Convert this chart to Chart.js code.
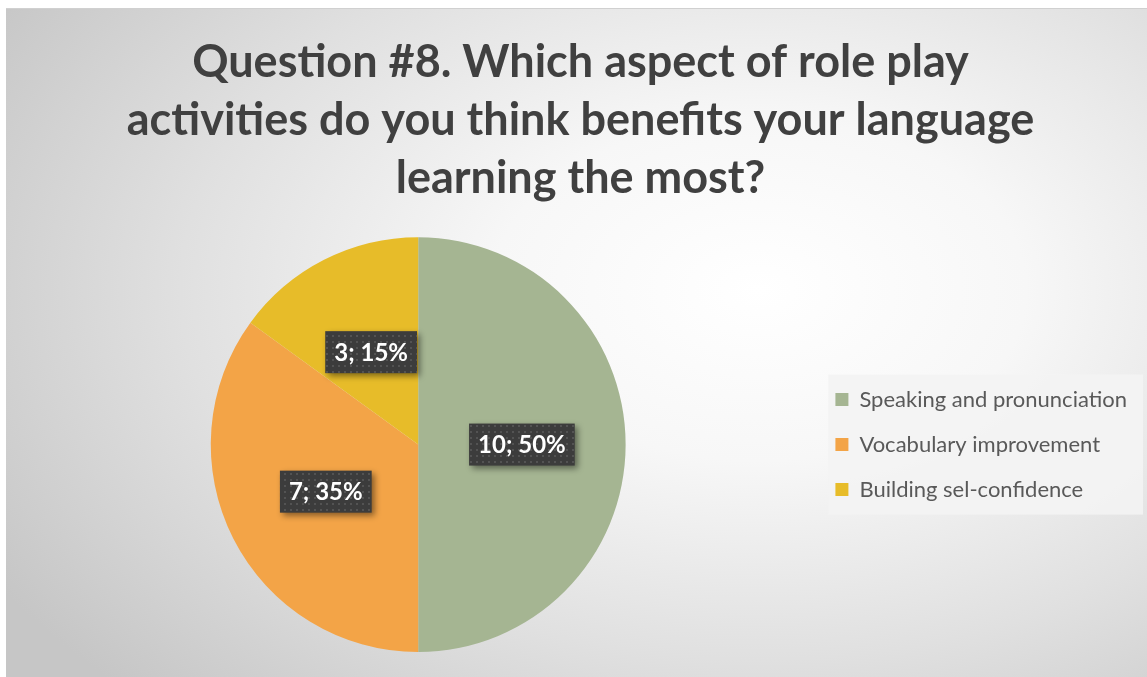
<!DOCTYPE html>
<html>
<head>
<meta charset="utf-8">
<script src="https://cdn.jsdelivr.net/npm/chart.js@4.4.1/dist/chart.umd.min.js"></script>
<style>
  html, body { margin: 0; padding: 0; background: #fff; }
  #wrap {
    position: absolute; left: 6px; top: 8px; width: 1141px; height: 669px;
    background: radial-gradient(ellipse 78% 85% at 66% 42%, #ffffff 0%, #f7f7f7 30%, #e0e0e0 65%, #c6c6c6 100%);
    border-top: 1px solid #d0d0d0;
  }
</style>
</head>
<body>
<div id="wrap"><canvas id="pie"></canvas></div>
<script>
var titleLines = ['Question #8. Which aspect of role play', 'activities do you think benefits your language', 'learning the most?'];
var labels = ['Speaking and pronunciation', 'Vocabulary improvement', 'Building sel-confidence'];
var counts = [10, 7, 3];
var colors = ['#A5B592', '#F3A447', '#E7BC29'];

// dotted fill for the value boxes
var pat = document.createElement('canvas');
pat.width = 6; pat.height = 6;
var pctx = pat.getContext('2d');
pctx.fillStyle = '#3c3c3c';
pctx.fillRect(0, 0, 6, 6);
pctx.fillStyle = '#535353';
pctx.fillRect(2, 2, 2, 2);

// light panel behind the legend entries
var legendBg = {
  id: 'legendBg',
  beforeDraw: function(chart){
    var lg = chart.legend;
    if (!lg || !lg.legendHitBoxes || !lg.legendHitBoxes.length) return;
    var hb = lg.legendHitBoxes;
    var top = hb[0].top, bottom = hb[hb.length - 1].top + hb[hb.length - 1].height;
    var c = chart.ctx;
    c.save();
    c.fillStyle = 'rgba(243,243,243,0.92)';
    c.fillRect(hb[0].left - 7, top - 14, chart.width - hb[0].left + 3, bottom - top + 28);
    c.restore();
  }
};

var valueBoxes = {
  id: 'valueBoxes',
  afterDatasetsDraw: function(chart){
    var c = chart.ctx;
    var meta = chart.getDatasetMeta(0);
    var total = counts.reduce(function(a, b){ return a + b; }, 0);
    c.save();
    c.font = 'bold 24px Lato';
    c.textAlign = 'center';
    c.textBaseline = 'middle';
    meta.data.forEach(function(arc, i){
      var mid = (arc.startAngle + arc.endAngle) / 2;
      var r = arc.outerRadius * 0.5;
      var x = arc.x + Math.cos(mid) * r;
      var y = arc.y + Math.sin(mid) * r;
      var txt = counts[i] + '; ' + Math.round(counts[i] / total * 100) + '%';
      var w = c.measureText(txt).width + 18;
      var h = 42;
      c.save();
      c.shadowColor = 'rgba(0,0,0,0.45)';
      c.shadowBlur = 6;
      c.shadowOffsetX = 3;
      c.shadowOffsetY = 3;
      c.fillStyle = c.createPattern(pat, 'repeat');
      c.fillRect(x - w / 2, y - h / 2, w, h);
      c.restore();
      c.fillStyle = '#ffffff';
      c.fillText(txt, x, y + 1);
    });
    c.restore();
  }
};

var ctx = document.getElementById('pie').getContext('2d');
var myPie = new Chart(ctx, {
  type: 'pie',
  data: {
    labels: labels,
    datasets: [{
      data: counts,
      backgroundColor: colors,
      borderWidth: 0
    }]
  },
  options: {
    responsive: true,
    maintainAspectRatio: false,
    animation: false,
    layout: { padding: { left: 18, right: 10, top: 0, bottom: 26 } },
    plugins: {
      title: {
        display: true,
        text: titleLines,
        color: '#404040',
        font: { family: 'Lato', size: 45, weight: 'bold', lineHeight: 1.29 },
        padding: { top: 24, bottom: 30 }
      },
      legend: {
        position: 'right',
        fullSize: false,
        labels: {
          boxWidth: 13,
          boxHeight: 13,
          padding: 23,
          color: '#595959',
          font: { family: 'Lato', size: 22 }
        }
      },
      tooltip: { enabled: false }
    }
  },
  plugins: [legendBg, valueBoxes]
});
</script>
</body>
</html>
